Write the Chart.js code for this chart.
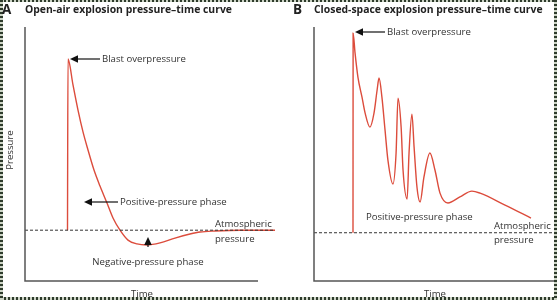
<!DOCTYPE html>
<html>
<head>
<meta charset="utf-8">
<script src="https://cdn.jsdelivr.net/npm/chart.js@4.4.1/dist/chart.umd.min.js"></script>
<style>
  body { margin: 0; background: #fff; }
  #wrap { position: relative; width: 557px; height: 300px; overflow: hidden; font-family: "Open Sans", sans-serif; color: #222; }
  canvas { position: absolute; top: 0; }
  #chartA { left: 0; }
  #chartB { left: 278px; }
  .title { position: absolute; top: 1px; font-weight: bold; font-size: 10.4px; line-height: 16px; white-space: nowrap; }
  .letter { position: absolute; top: 0; font-weight: bold; font-size: 13.5px; line-height: 18px; }
  .edge { position: absolute; }
  .h { height: 3px; width: 557px; left: 0; background: repeating-linear-gradient(90deg, #2e3b2c 0 2px, #cdd4c6 2px 4px); }
  .v { width: 3px; height: 300px; top: 0; background: repeating-linear-gradient(180deg, #2e3b2c 0 2px, #cdd4c6 2px 4px); }
</style>
</head>
<body>
<div id="wrap">
  <canvas id="chartA" width="278" height="300"></canvas>
  <canvas id="chartB" width="279" height="300"></canvas>
  <div class="edge h" style="top:-1px"></div>
  <div class="edge h" style="top:297px"></div>
  <div class="edge v" style="left:0"></div>
  <div class="edge v" style="left:554px"></div>
  <div class="letter" style="left:2px">A</div>
  <div class="title" style="left:25px">Open-air explosion pressure–time curve</div>
  <div class="letter" style="left:293px">B</div>
  <div class="title" style="left:314px">Closed-space explosion pressure–time curve</div>
</div>
<script>
// Panel A: open-air explosion (time and pressure in arbitrary units, atmospheric = 0)
var timeA = [17.0, 17.2, 19.2, 21.2, 23.2, 25.2, 27.6, 30.0, 32.8, 35.2, 38.0, 41.2, 44.8, 48.8, 54.0, 60.0, 66.0, 70.0, 76.0, 86.0, 100];
var pressureA = [0, 67.4, 57.2, 47.3, 38.7, 31.6, 23.7, 17.4, 10.7, 4.8, 0, -3.9, -5.4, -5.8, -5.0, -3.1, -1.5, -0.7, -0.3, 0, 0];

// Panel B: closed-space explosion
var timeB = [16.25, 16.3, 17.1, 18.3, 20.0, 21.3, 23.3, 25.0, 26.3, 27.1, 28.3, 29.6, 30.8, 32.9, 34.2, 35.0, 36.3, 37.1, 38.8, 39.6, 40.8, 41.7, 42.9, 44.2, 45.8, 48.3, 50.4, 52.5, 55.8, 60.8, 65.8, 69.2, 79.6, 90.4];
var pressureB = [0, 78.6, 70.8, 61.3, 53.4, 47.1, 41.6, 47.1, 56.2, 60.9, 53.4, 40.4, 28.6, 19.2, 31.4, 53.0, 41.6, 24.7, 13.3, 31.4, 46.7, 33.8, 18.0, 12.1, 21.9, 31.4, 24.7, 15.6, 11.7, 14.1, 16.4, 15.6, 10.9, 5.8];

// Atmospheric pressure reference line
var atmTime = [0, 100];
var atmPressure = [0, 0];

function toPoints(xs, ys) {
    return xs.map(function(x, i) { return { x: x, y: ys[i] }; });
}

function drawArrow(ctx, x1, y1, x2, y2) {
    // line from (x1,y1) to tip (x2,y2) with filled head
    var ang = Math.atan2(y2 - y1, x2 - x1);
    var len = 8, half = 3.8;
    var bx = x2 - Math.cos(ang) * len, by = y2 - Math.sin(ang) * len;
    ctx.beginPath();
    ctx.moveTo(x1, y1);
    ctx.lineTo(bx, by);
    ctx.stroke();
    ctx.beginPath();
    ctx.moveTo(x2, y2);
    ctx.lineTo(bx - Math.sin(ang) * half, by + Math.cos(ang) * half);
    ctx.lineTo(bx + Math.sin(ang) * half, by - Math.cos(ang) * half);
    ctx.closePath();
    ctx.fill();
}

var overlay = {
    id: 'overlay',
    afterDatasetsDraw: function(chart, args, opts) {
        var ctx = chart.ctx, area = chart.chartArea, xs = chart.scales.x;
        ctx.save();
        // axes
        ctx.strokeStyle = '#555';
        ctx.lineWidth = 1.5;
        ctx.beginPath();
        ctx.moveTo(area.left, area.top);
        ctx.lineTo(area.left, area.bottom);
        ctx.lineTo(xs.getPixelForValue(opts.axisEnd), area.bottom);
        ctx.stroke();
        // arrows
        ctx.strokeStyle = '#111';
        ctx.fillStyle = '#111';
        ctx.lineWidth = 1.2;
        opts.arrows.forEach(function(a) { drawArrow(ctx, a[0], a[1], a[2], a[3]); });
        // labels
        ctx.fillStyle = '#333';
        ctx.font = '9.6px "Open Sans"';
        ctx.textBaseline = 'middle';
        opts.labels.forEach(function(l) {
            ctx.textAlign = l.align || 'left';
            if (l.rotate) {
                ctx.save();
                ctx.translate(l.x, l.y);
                ctx.rotate(-Math.PI / 2);
                ctx.textAlign = 'center';
                ctx.fillText(l.text, 0, 0);
                ctx.restore();
            } else {
                ctx.fillText(l.text, l.x, l.y);
            }
        });
        ctx.restore();
    }
};

function makeChart(id, xs, ys, yMin, yMax, pad, overlayOpts) {
    return new Chart(document.getElementById(id).getContext('2d'), {
        type: 'line',
        data: {
            datasets: [{
                data: toPoints(atmTime, atmPressure),
                borderColor: '#333',
                borderWidth: 1,
                borderDash: [3, 2],
                pointRadius: 0
            }, {
                data: toPoints(xs, ys),
                borderColor: '#dc4c3c',
                borderWidth: 1.4,
                pointRadius: 0,
                cubicInterpolationMode: 'monotone'
            }]
        },
        options: {
            responsive: false,
            animation: false,
            layout: { padding: pad },
            scales: {
                x: { type: 'linear', min: 0, max: 100, display: false },
                y: { min: yMin, max: yMax, display: false }
            },
            plugins: {
                legend: { display: false },
                tooltip: { enabled: false },
                overlay: overlayOpts
            }
        },
        plugins: [overlay]
    });
}

makeChart('chartA', timeA, pressureA, -20, 80, { left: 25, right: 3, top: 27, bottom: 19 }, {
    axisEnd: 93.2,
    arrows: [[100, 59, 70, 59], [118, 202, 84, 202], [148, 247, 148, 237]],
    labels: [
        { text: 'Blast overpressure', x: 102, y: 59 },
        { text: 'Positive-pressure phase', x: 120, y: 202 },
        { text: 'Negative-pressure phase', x: 148, y: 262, align: 'center' },
        { text: 'Atmospheric', x: 215, y: 224 },
        { text: 'pressure', x: 215, y: 239 },
        { text: 'Time', x: 142, y: 294, align: 'center' },
        { text: 'Pressure', x: 10, y: 150, rotate: true }
    ]
});

makeChart('chartB', timeB, pressureB, -19, 81, { left: 36, right: 3, top: 27, bottom: 19 }, {
    axisEnd: 100,
    arrows: [[107, 32, 77, 32]],
    labels: [
        { text: 'Blast overpressure', x: 109, y: 32 },
        { text: 'Positive-pressure phase', x: 88, y: 217 },
        { text: 'Atmospheric', x: 216, y: 226 },
        { text: 'pressure', x: 216, y: 240 },
        { text: 'Time', x: 157, y: 294, align: 'center' }
    ]
});
</script>
</body>
</html>
